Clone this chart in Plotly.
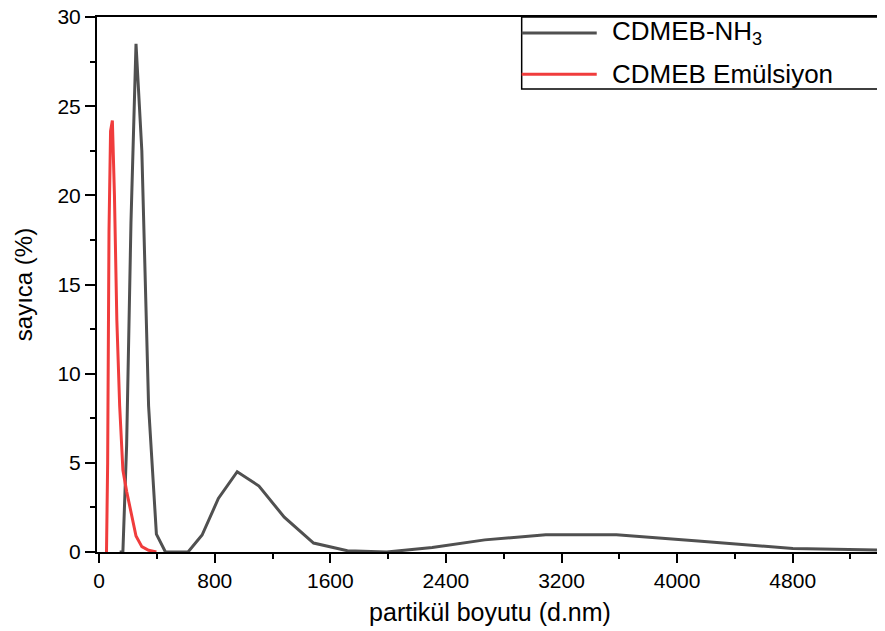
import plotly.graph_objects as go

# Particle size bins (d.nm) and number distribution (%)
size_nh3 = [141.8, 164.2, 190.1, 220.2, 255.0, 295.3, 342.0, 396.1, 458.7, 531.2,
            615.1, 712.4, 825.0, 955.4, 1106, 1281, 1484, 1718, 1990, 2305,
            2669, 3091, 3580, 4145, 4801, 5560]
count_nh3 = [0, 0, 6.0, 18.5, 28.5, 22.5, 8.2, 1.0, 0, 0,
             0, 0.95, 3.0, 4.5, 3.7, 1.95, 0.5, 0.07, 0, 0.25,
             0.68, 0.97, 0.97, 0.62, 0.19, 0.08]

size_em = [43.82, 50.75, 58.77, 68.06, 78.82, 91.28, 105.7, 122.4, 141.8, 164.2,
           190.1, 220.2, 255.0, 295.3, 342.0, 396.1]
count_em = [0, 0, 5.0, 18.0, 23.6, 24.2, 20.0, 13.0, 8.2, 4.6,
            3.4, 2.2, 0.9, 0.3, 0.1, 0]

series_names = ["CDMEB-NH<sub>3</sub>", "CDMEB Emülsiyon"]
series_colors = ["#505050", "#f03c3c"]

x_ticks = [0, 800, 1600, 2400, 3200, 4000, 4800]
y_ticks = [0, 5, 10, 15, 20, 25, 30]

FONT = "Liberation Sans, Arial, sans-serif"

fig = go.Figure()
fig.add_trace(go.Scatter(x=size_nh3, y=count_nh3, mode="lines", name=series_names[0],
                         line=dict(color=series_colors[0], width=3), showlegend=False))
fig.add_trace(go.Scatter(x=size_em, y=count_em, mode="lines", name=series_names[1],
                         line=dict(color=series_colors[1], width=3), showlegend=False))

# Manual legend box (to mimic the long line samples of the original)
L, B = 0.5403, 0.8653
rows = [0.9702, 0.8932]
fig.add_shape(type="rect", xref="paper", yref="paper", x0=L, x1=0.9985, y0=B, y1=1.0,
              line=dict(color="black", width=1.5), fillcolor="rgba(255,255,255,0)")
for yv, name, col in zip(rows, series_names, series_colors):
    fig.add_shape(type="line", xref="paper", yref="paper", x0=L, x1=0.6358, y0=yv, y1=yv,
                  line=dict(color=col, width=3))
    fig.add_annotation(xref="paper", yref="paper", x=0.6527, y=yv, text=name, showarrow=False,
                       xanchor="left", yanchor="middle", font=dict(family=FONT, size=26, color="black"))

# The page body has an 8px margin, so the figure is sized/offset to compensate.
fig.update_layout(
    width=877, height=623,
    margin=dict(l=89, r=2, t=9, b=79, autoexpand=False),
    paper_bgcolor="white", plot_bgcolor="white",
    font=dict(family=FONT, color="black"),
    xaxis=dict(
        range=[-15, 5425], tickvals=x_ticks, ticktext=[str(v) for v in x_ticks],
        ticks="outside", ticklen=9, tickwidth=1.8, tickcolor="black",
        minor=dict(dtick=400, tick0=0, ticks="outside", ticklen=5, tickwidth=1.5, tickcolor="black"),
        showline=True, linecolor="black", linewidth=2, mirror=True,
        showgrid=False, zeroline=False, automargin=False, ticklabeloverflow="allow",
        tickfont=dict(family=FONT, size=21, color="black"),
        title=dict(text="partikül boyutu (d.nm)", font=dict(family=FONT, size=25, color="black"), standoff=12),
    ),
    yaxis=dict(
        range=[0, 30], tickvals=y_ticks, ticktext=[str(v) for v in y_ticks],
        ticks="outside", ticklen=10, tickwidth=1.8, tickcolor="black",
        minor=dict(dtick=2.5, tick0=0, ticks="outside", ticklen=5, tickwidth=1.5, tickcolor="black"),
        showline=True, linecolor="black", linewidth=2, mirror=True,
        showgrid=False, zeroline=False, automargin=False, ticklabeloverflow="allow",
        tickfont=dict(family=FONT, size=21, color="black"),
        title=dict(text="sayıca (%)", font=dict(family=FONT, size=24, color="black"), standoff=18),
    ),
)

fig.write_html("out.html")
